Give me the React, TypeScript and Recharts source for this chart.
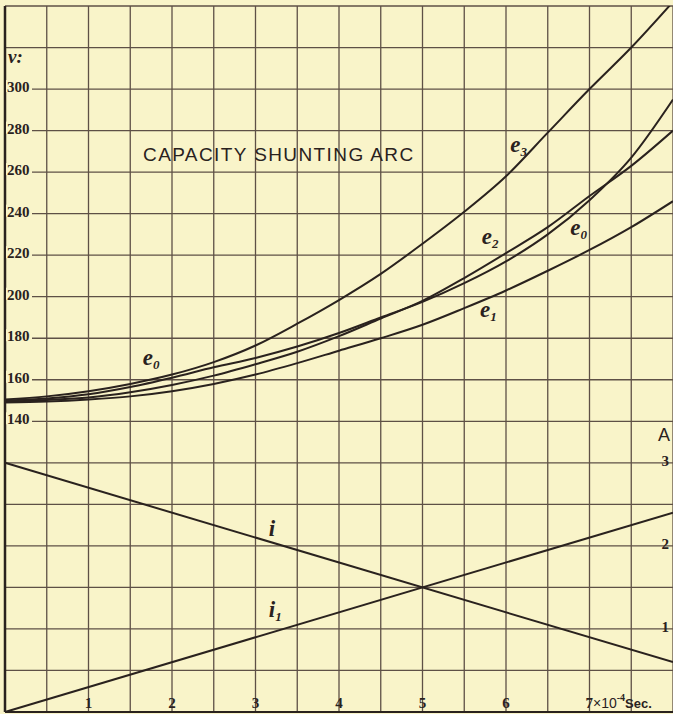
import { CartesianGrid, Line, LineChart, ReferenceDot, XAxis, YAxis } from 'recharts';

// time in units of 10^-4 sec
const TIMES = [0, 0.5, 1, 1.5, 2, 2.5, 3, 3.5, 4, 4.5, 5, 5.5, 6, 6.5, 7, 7.5, 8];

// voltages (v)
const E0 = [150, 151, 153, 156.5, 161, 166, 170.5, 176, 182.5, 190, 197.5, 206.5, 217, 230, 246.5, 267, 295];
const E1 = [149, 149.5, 150.5, 152, 154.5, 158, 162.5, 168, 174, 180, 186.5, 194.5, 203, 212.5, 222.5, 233.5, 246];
const E2 = [149.5, 150.3, 151.5, 154, 157.5, 162, 167.5, 173.5, 181, 189.5, 198, 209, 221, 233.5, 248.5, 263, 280];
const E3 = [150.5, 152, 154.5, 158, 162.5, 168.5, 176.5, 187, 198.4, 211, 225.5, 240.9, 258, 279, 300, 320, 342];

// currents (A), straight lines
const I_TIMES = [0, 8];
const I_VALUES = [3, 0.6];
const I1_VALUES = [0, 2.4];

const X_TICKS = [0, 0.5, 1, 1.5, 2, 2.5, 3, 3.5, 4, 4.5, 5, 5.5, 6, 6.5, 7, 7.5, 8];
const X_LABELS = [1, 2, 3, 4, 5, 6, 7];
const V_TICKS = [0, 20, 40, 60, 80, 100, 120, 140, 160, 180, 200, 220, 240, 260, 280, 300, 320, 340];
const V_LABELS = [140, 160, 180, 200, 220, 240, 260, 280, 300];
const A_TICKS = [1, 2, 3];

const CURVE_LABELS = [
  { name: 'e', sub: '3', t: 6.05, y: 269.6, axis: 'v' },
  { name: 'e', sub: '2', t: 5.71, y: 225.3, axis: 'v' },
  { name: 'e', sub: '0', t: 6.77, y: 229.7, axis: 'v' },
  { name: 'e', sub: '1', t: 5.69, y: 190.2, axis: 'v' },
  { name: 'e', sub: '0', t: 1.65, y: 167, axis: 'v' },
  { name: 'i', sub: '', t: 3.16, y: 2.12, axis: 'A' },
  { name: 'i', sub: '1', t: 3.16, y: 1.145, axis: 'A' },
];

const BG = '#f9f4c9';
const INK = '#2a221e';
const GRID = '#5e5046';
const SERIF = '"Liberation Serif", "DejaVu Serif", serif';
const SANS = '"Liberation Sans", "DejaVu Sans", sans-serif';

const rows = TIMES.map((t, k) => {
  const j = I_TIMES.indexOf(t);
  return {
    t,
    e0: E0[k],
    e1: E1[k],
    e2: E2[k],
    e3: E3[k],
    i: j >= 0 ? I_VALUES[j] : undefined,
    i1: j >= 0 ? I1_VALUES[j] : undefined,
  };
});

function VTick(props: any) {
  const { x, y, payload } = props;
  if (!V_LABELS.includes(payload.value)) return <g />;
  return (
    <g>
      <rect x={x + 1} y={y - 9} width={26} height={12} fill={BG} />
      <text x={x + 2} y={y + 3} fontFamily={SERIF} fontWeight="bold" fontSize={15} fill={INK}>
        {payload.value}
      </text>
    </g>
  );
}

function ATick(props: any) {
  const { x, y, payload } = props;
  return (
    <text x={x - 4} y={y + 3} textAnchor="end" fontFamily={SERIF} fontWeight="bold" fontSize={15} fill={INK}>
      {payload.value}
    </text>
  );
}

function TTick(props: any) {
  const { x, y, payload } = props;
  if (!X_LABELS.includes(payload.value)) return <g />;
  if (payload.value === 7) {
    return (
      <text x={x - 4} y={y - 4} fontFamily={SERIF} fontWeight="bold" fontSize={15} fill={INK}>
        7
        <tspan fontFamily={SANS} fontWeight="normal" fontSize={14}>×10</tspan>
        <tspan fontSize={10} dy={-7}>-4</tspan>
        <tspan fontFamily={SANS} fontWeight="bold" fontSize={13} dy={7}>Sec.</tspan>
      </text>
    );
  }
  return (
    <text x={x} y={y - 4} textAnchor="middle" fontFamily={SERIF} fontWeight="bold" fontSize={15} fill={INK}>
      {payload.value}
    </text>
  );
}

function curveLabelShape(name: string, sub: string) {
  return (p: any) => (
    <text x={p.cx} y={p.cy} fontFamily={SERIF} fontStyle="italic" fontWeight="bold" fontSize={23} fill={INK}>
      {name}
      {sub && (
        <tspan fontSize={13} dy={4}>
          {sub}
        </tspan>
      )}
    </text>
  );
}

export default function App() {
  return (
    <div style={{ position: 'absolute', left: 0, top: 0, width: 673, height: 714, background: BG }}>
      <LineChart width={673} height={714} data={rows} margin={{ top: 6, right: 0, left: 5, bottom: 2 }}>
        <CartesianGrid yAxisId="v" stroke={GRID} strokeWidth={1.3} />
        <XAxis
          dataKey="t"
          type="number"
          domain={[0, 8]}
          ticks={X_TICKS}
          mirror
          tickSize={0}
          tickMargin={0}
          axisLine={{ stroke: INK, strokeWidth: 2 }}
          tick={<TTick />}
          interval={0}
        />
        <YAxis
          yAxisId="v"
          type="number"
          domain={[0, 340]}
          ticks={V_TICKS}
          allowDataOverflow
          mirror
          tickSize={0}
          tickMargin={0}
          axisLine={{ stroke: INK, strokeWidth: 2.5 }}
          tick={<VTick />}
          interval={0}
        />
        <YAxis
          yAxisId="A"
          orientation="right"
          type="number"
          domain={[0, 8.5]}
          ticks={A_TICKS}
          mirror
          tickSize={0}
          tickMargin={0}
          axisLine={false}
          tick={<ATick />}
          interval={0}
        />
        <Line yAxisId="v" type="monotone" dataKey="e3" stroke={INK} strokeWidth={2} dot={false} isAnimationActive={false} />
        <Line yAxisId="v" type="monotone" dataKey="e2" stroke={INK} strokeWidth={2} dot={false} isAnimationActive={false} />
        <Line yAxisId="v" type="monotone" dataKey="e0" stroke={INK} strokeWidth={2} dot={false} isAnimationActive={false} />
        <Line yAxisId="v" type="monotone" dataKey="e1" stroke={INK} strokeWidth={2} dot={false} isAnimationActive={false} />
        <Line yAxisId="A" type="linear" dataKey="i" connectNulls stroke={INK} strokeWidth={2} dot={false} isAnimationActive={false} />
        <Line yAxisId="A" type="linear" dataKey="i1" connectNulls stroke={INK} strokeWidth={2} dot={false} isAnimationActive={false} />
        {CURVE_LABELS.map((l, k) => (
          <ReferenceDot key={k} yAxisId={l.axis} x={l.t} y={l.y} r={0} shape={curveLabelShape(l.name, l.sub)} />
        ))}
        <ReferenceDot
          yAxisId="v"
          x={1.653}
          y={265.3}
          r={0}
          shape={(p: any) => (
            <text x={p.cx} y={p.cy} fontFamily={SANS} fontSize={19} letterSpacing={1.4} fill={INK}>
              CAPACITY SHUNTING ARC
            </text>
          )}
        />
        <ReferenceDot
          yAxisId="v"
          x={0}
          y={312.5}
          r={0}
          shape={(p: any) => (
            <text x={p.cx + 3} y={p.cy} fontFamily={SERIF} fontStyle="italic" fontWeight="bold" fontSize={19} fill={INK}>
              v:
            </text>
          )}
        />
        <ReferenceDot
          yAxisId="A"
          x={8}
          y={3.26}
          r={0}
          shape={(p: any) => (
            <text x={p.cx - 3} y={p.cy} textAnchor="end" fontFamily={SANS} fontSize={18} fill={INK}>
              A
            </text>
          )}
        />
      </LineChart>
    </div>
  );
}
